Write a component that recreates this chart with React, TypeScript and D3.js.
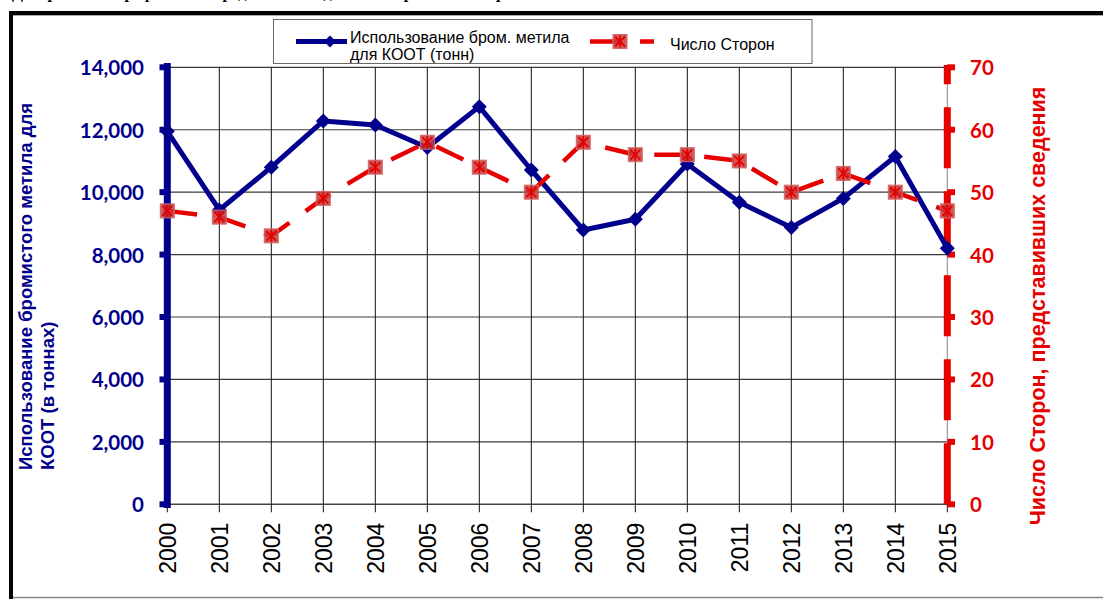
import React from "react";
import * as d3 from "d3";

// ---- data ----
const years = ["2000","2001","2002","2003","2004","2005","2006","2007","2008","2009","2010","2011","2012","2013","2014","2015"];
const mbUse = [11950, 9430, 10800, 12280, 12150, 11430, 12740, 10710, 8790, 9130, 10900, 9680, 8870, 9800, 11140, 8200];
const parties = [47, 46, 43, 49, 54, 58, 54, 50, 58, 56, 56, 55, 50, 53, 50, 47];
const leftTicks = [0, 2000, 4000, 6000, 8000, 10000, 12000, 14000];
const rightTicks = [0, 10, 20, 30, 40, 50, 60, 70];

const leftTitle = ["Использование бромистого метила для", "КООТ (в тоннах)"];
const rightTitle = "Число Сторон, представивших сведения";
const legendBlue = ["Использование бром. метила", "для КООТ (тонн)"];
const legendRed = "Число Сторон";
const topText = "Диаграмма 2: Графическое представление данных о применении бромистого метила";

const NAVY = "#00008c";
const RED = "#e60000";
const NUMFONT = "Lato, 'Liberation Sans', sans-serif";
const SANS = "'Liberation Sans', Arial, sans-serif";

const X0 = 167.3, X1 = 947.3, YB = 504.3, YT = 67.3;

function Diamond({ cx, cy, r }: { cx: number; cy: number; r: number }) {
  return <path d={`M${cx},${cy - r}L${cx + r},${cy}L${cx},${cy + r}L${cx - r},${cy}Z`} fill={NAVY} />;
}

function RedMarker({ cx, cy }: { cx: number; cy: number }) {
  const h = 7, k = 5;
  return (
    <g>
      <rect x={cx - h} y={cy - h} width={2 * h} height={2 * h} fill="#c43c3c" fillOpacity={0.85} stroke="#d86a6a" strokeWidth={1} />
      <path d={`M${cx - k},${cy - k}L${cx + k},${cy + k}M${cx - k},${cy + k}L${cx + k},${cy - k}M${cx},${cy - h + 1}L${cx},${cy + h - 1}`} stroke={RED} strokeWidth={1.8} />
    </g>
  );
}

export default function App() {
  const x = d3.scalePoint<string>().domain(years).range([X0, X1]);
  const yL = d3.scaleLinear().domain([0, 14000]).range([YB, YT]);
  const yR = d3.scaleLinear().domain([0, 70]).range([YB, YT]);
  const fmt = d3.format(",");

  const blueLine = d3.line<number>().x((_, i) => x(years[i])!).y((d) => yL(d))(mbUse)!;
  const redLine = d3.line<number>().x((_, i) => x(years[i])!).y((d) => yR(d))(parties)!;

  return (
    <svg width={1103} height={599} style={{ position: "absolute", left: 0, top: 0, background: "#fff" }}>
      {/* caption above the frame, cut off at the page top as in the source */}
      <text x={12} y={-2.5} fontFamily="'Liberation Serif', 'Times New Roman', serif" fontWeight="bold" fontSize={16} fill="#000">{topText}</text>

      {/* frame */}
      <line x1={9} x2={1103} y1={13} y2={13} stroke="#000" strokeWidth={4} />
      <line x1={13} x2={1103} y1={15.5} y2={15.5} stroke="#aaa" strokeWidth={1} />
      <line x1={11} x2={11} y1={11} y2={599} stroke="#000" strokeWidth={4} />
      <line x1={13} x2={1103} y1={597.5} y2={597.5} stroke="#888" strokeWidth={1.5} />

      {/* horizontal gridlines */}
      {leftTicks.filter((t) => t > 0).map((t) => (
        <line key={"h" + t} x1={X0} x2={X1} y1={yL(t)} y2={yL(t)} stroke="#3a3a3a" strokeWidth={1.2} />
      ))}
      {/* vertical gridlines */}
      {years.slice(1).map((yr, i) => (
        <line key={"v" + yr} x1={x(yr)} x2={x(yr)} y1={YT} y2={YB} stroke={i === years.length - 2 ? "#888" : "#111"} strokeWidth={1} />
      ))}
      {/* x axis */}
      <line x1={X0} x2={X1} y1={YB} y2={YB} stroke="#444" strokeWidth={1.5} />
      {years.map((yr) => (
        <line key={"xt" + yr} x1={x(yr)} x2={x(yr)} y1={YB} y2={YB + 8} stroke="#111" strokeWidth={1} />
      ))}
      {years.map((yr) => (
        <text key={"xl" + yr} transform={`translate(${x(yr)! + 1},522.7) rotate(-90)`} textAnchor="end" dominantBaseline="central" fontFamily={SANS} fontSize={23} fill="#000">{yr}</text>
      ))}

      {/* left axis */}
      <line x1={X0} x2={X0} y1={63} y2={508} stroke={NAVY} strokeWidth={7} />
      {leftTicks.map((t) => (
        <line key={"lt" + t} x1={159.5} x2={X0} y1={yL(t)} y2={yL(t)} stroke={NAVY} strokeWidth={6} />
      ))}
      {leftTicks.map((t) => (
        <text key={"ll" + t} x={144} y={yL(t)} textAnchor="end" dominantBaseline="central" fontFamily={NUMFONT} fontWeight="bold" fontSize={20.5} fill={NAVY}>{fmt(t)}</text>
      ))}
      {leftTitle.map((s, i) => (
        <text key={"lti" + i} transform={`translate(${25 + i * 22},470) rotate(-90)`} textAnchor="start" dominantBaseline="central" fontFamily={SANS} fontWeight="bold" fontSize={18.5} fill={NAVY}>{s}</text>
      ))}

      {/* right axis */}
      <line x1={X1} x2={X1} y1={YB} y2={65} stroke={RED} strokeWidth={7} strokeDasharray="61 23" />
      {rightTicks.map((t) => (
        <line key={"rt" + t} x1={X1} x2={955} y1={yR(t)} y2={yR(t)} stroke={RED} strokeWidth={6} />
      ))}
      {rightTicks.map((t) => (
        <text key={"rl" + t} x={970} y={yR(t)} textAnchor="start" dominantBaseline="central" fontFamily={NUMFONT} fontWeight="bold" fontSize={20.5} fill={RED}>{fmt(t)}</text>
      ))}
      <text transform={`translate(1038,306) rotate(-90)`} textAnchor="middle" dominantBaseline="central" fontFamily={SANS} fontWeight="bold" fontSize={21.5} fill={RED}>{rightTitle}</text>

      {/* blue series */}
      <path d={blueLine} fill="none" stroke={NAVY} strokeWidth={5} strokeLinejoin="round" />
      {mbUse.map((v, i) => (
        <Diamond key={"d" + i} cx={x(years[i])!} cy={yL(v)} r={7.5} />
      ))}

      {/* red series */}
      <path d={redLine} fill="none" stroke={RED} strokeWidth={4.5} strokeDasharray="30 20" />
      {parties.map((v, i) => (
        <RedMarker key={"r" + i} cx={x(years[i])!} cy={yR(v)} />
      ))}

      {/* legend */}
      <rect x={273.5} y={19.5} width={538.5} height={44} fill="#fff" stroke="#666" strokeWidth={1} />
      <line x1={296} x2={347} y1={41.5} y2={41.5} stroke={NAVY} strokeWidth={5} />
      <Diamond cx={330} cy={41.5} r={6} />
      {legendBlue.map((s, i) => (
        <text key={"lb" + i} x={350} y={43 + i * 17} fontFamily={SANS} fontSize={16} fill="#000">{s}</text>
      ))}
      <line x1={590} x2={654} y1={41.5} y2={41.5} stroke={RED} strokeWidth={4.5} strokeDasharray="30 20" />
      <RedMarker cx={620} cy={41.5} />
      <text x={670} y={50} fontFamily={SANS} fontSize={16} fill="#000">{legendRed}</text>
    </svg>
  );
}
